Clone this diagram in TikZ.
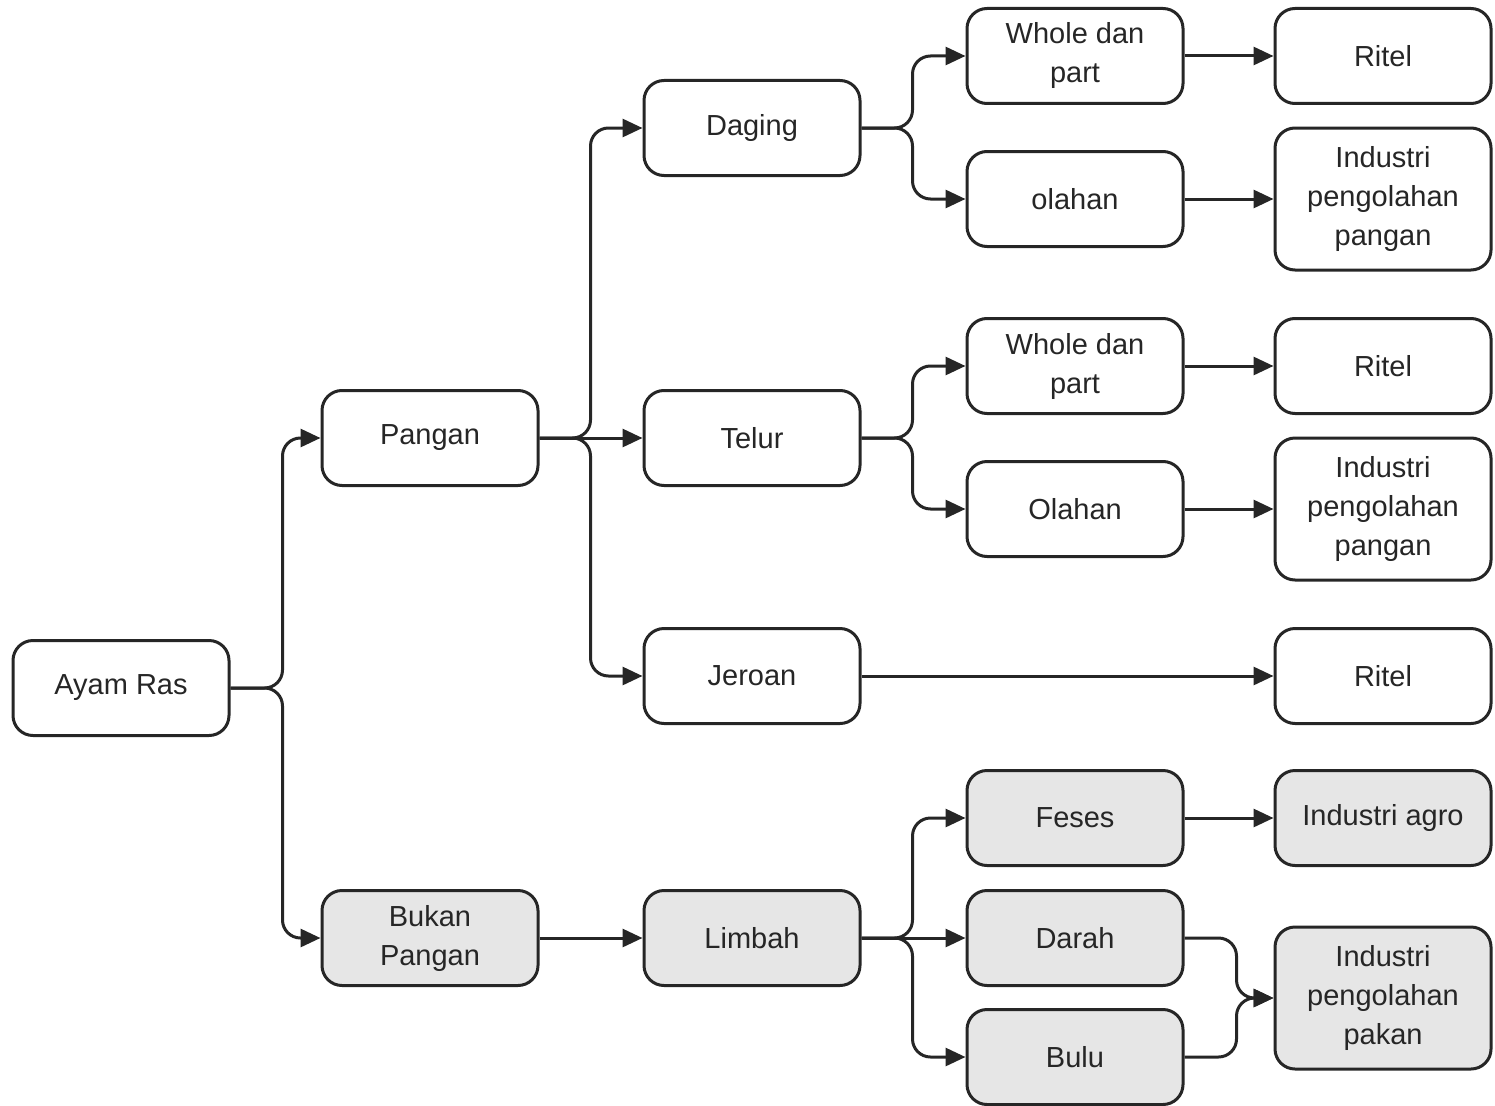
\documentclass[tikz,border=0pt]{standalone}
\usepackage{fontspec}
\setmainfont{Liberation Sans}
\usetikzlibrary{arrows.meta}
\definecolor{boxgray}{HTML}{E6E6E6}
\definecolor{ink}{HTML}{262626}
\begin{document}
\begin{tikzpicture}[x=1pt,y=-1pt,
  box/.style={draw=ink,line width=3pt,rounded corners=20pt,minimum width=216pt,minimum height=95pt,
    align=center,text=ink,font=\fontsize{29}{39}\selectfont,inner sep=0pt,fill=white},
  tall/.style={minimum height=142pt},
  grey/.style={fill=boxgray},
  conn/.style={draw=ink,line width=3pt,rounded corners=18pt,-{Triangle[length=20pt,width=18pt]}}]
\useasboundingbox (0,0) rectangle (1495,1105);
% column 1-2
\node[box] (ayam) at (121,688) {Ayam Ras};
\node[box] (pangan) at (430,438) {Pangan};
\node[box,grey] (bukan) at (430,938) {Bukan\\Pangan};
% column 3
\node[box] (daging) at (752,128) {Daging};
\node[box] (telur) at (752,438) {Telur};
\node[box] (jeroan) at (752,676) {Jeroan};
\node[box,grey] (limbah) at (752,938) {Limbah};
% column 4
\node[box] (w1) at (1075,56) {Whole dan\\part};
\node[box] (ol1) at (1075,199) {olahan};
\node[box] (w2) at (1075,366) {Whole dan\\part};
\node[box] (ol2) at (1075,509) {Olahan};
\node[box,grey] (feses) at (1075,818) {Feses};
\node[box,grey] (darah) at (1075,938) {Darah};
\node[box,grey] (bulu) at (1075,1057) {Bulu};
% column 5
\node[box] (r1) at (1383,56) {Ritel};
\node[box,tall] (ipp1) at (1383,199) {Industri\\pengolahan\\pangan};
\node[box] (r2) at (1383,366) {Ritel};
\node[box,tall] (ipp2) at (1383,509) {Industri\\pengolahan\\pangan};
\node[box] (r3) at (1383,676) {Ritel};
\node[box,grey] (agro) at (1383,818) {Industri agro};
\node[box,grey,tall] (pakan) at (1383,998) {Industri\\pengolahan\\pakan};
% connectors
\draw[conn] (ayam.east) -- ++(52,0) |- (pangan.west);
\draw[conn] (ayam.east) -- ++(52,0) |- (bukan.west);
\draw[conn] (pangan.east) -- ++(51,0) |- (daging.west);
\draw[conn] (pangan.east) -- (telur.west);
\draw[conn] (pangan.east) -- ++(51,0) |- (jeroan.west);
\draw[conn] (bukan.east) -- (limbah.west);
\draw[conn] (daging.east) -- ++(51,0) |- (w1.west);
\draw[conn] (daging.east) -- ++(51,0) |- (ol1.west);
\draw[conn] (telur.east) -- ++(51,0) |- (w2.west);
\draw[conn] (telur.east) -- ++(51,0) |- (ol2.west);
\draw[conn] (jeroan.east) -- (r3.west);
\draw[conn] (limbah.east) -- ++(51,0) |- (feses.west);
\draw[conn] (limbah.east) -- (darah.west);
\draw[conn] (limbah.east) -- ++(51,0) |- (bulu.west);
\draw[conn] (w1.east) -- (r1.west);
\draw[conn] (ol1.east) -- (ipp1.west);
\draw[conn] (w2.east) -- (r2.west);
\draw[conn] (ol2.east) -- (ipp2.west);
\draw[conn] (feses.east) -- (agro.west);
\draw[conn] (darah.east) -- ++(52,0) |- (pakan.west);
\draw[conn] (bulu.east) -- ++(52,0) |- (pakan.west);
\end{tikzpicture}
\end{document}
